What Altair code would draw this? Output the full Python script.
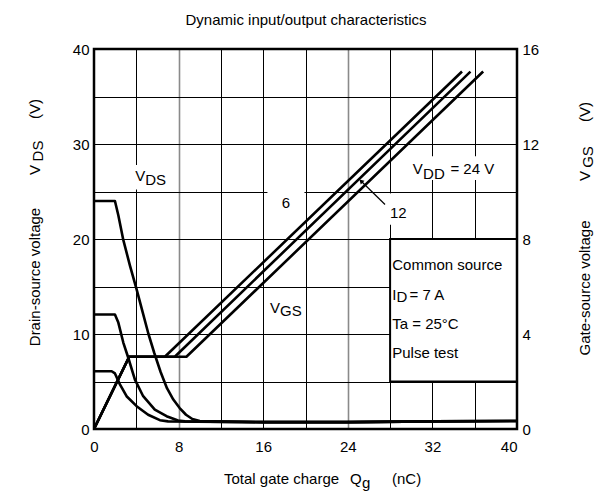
import altair as alt
import pandas as pd

FONT = "Liberation Sans"

# ---------------- data ----------------
# Drain-source voltage VDS (V) vs total gate charge Qg (nC), three supply voltages
q_vds_24 = [0, 1.98, 2.3, 2.77, 3.4, 4.03, 4.6, 5.15, 5.7, 6.3, 6.9, 7.5, 8.1, 8.7, 9.3, 10.0, 16, 24, 32, 40]
v_vds_24 = [24, 24, 22.5, 19.9, 17.2, 14.7, 12.3, 10.0, 8.0, 6.0, 4.3, 3.1, 2.2, 1.5, 1.05, 0.85, 0.72, 0.72, 0.8, 0.85]
q_vds_12 = [0, 1.98, 2.3, 2.77, 3.24, 3.87, 4.65, 5.75, 6.86, 7.95, 8.6, 16, 24, 32, 40]
v_vds_12 = [12.05, 12.05, 11.2, 9.1, 7.5, 5.2, 3.45, 2.05, 1.35, 0.9, 0.8, 0.72, 0.72, 0.8, 0.85]
q_vds_6 = [0, 1.67, 1.98, 2.45, 3.08, 4.03, 5.12, 6.23, 7.0, 16, 24, 32, 40]
v_vds_6 = [6.08, 6.08, 5.85, 4.7, 3.45, 2.4, 1.5, 0.93, 0.8, 0.72, 0.72, 0.8, 0.85]

# Gate-source voltage VGS (V)
q_vgs_6 = [0, 3.33, 6.7, 34.8]
q_vgs_12 = [0, 3.33, 7.64, 35.6]
q_vgs_24 = [0, 3.33, 8.74, 36.8]
v_vgs = [0, 3.04, 3.04, 15.05]

x_ticks = list(range(0, 41, 4))
yl_ticks = list(range(0, 41, 5))
yr_ticks = [0, 4, 8, 12, 16]

# in-plot annotation text (data units of the left axis)
ann_text = ["V", "DS", "V", "DD", "= 24 V", "12", "V", "GS",
            "Common source", "I", "D", "= 7 A", "Ta = 25°C", "Pulse test"]
ann_q = [3.9, 4.85, 30.14, 31.12, 33.7, 27.99, 16.64, 17.6,
         28.2, 28.2, 28.6, 29.84, 28.2, 28.2]
ann_v = [26.1, 25.65, 26.8, 26.34, 26.8, 22.2, 12.16, 11.87,
         16.7, 13.63, 13.35, 13.63, 10.55, 7.5]
six_q, six_v = [18.16], [23.3]

# white patches behind labels (data units)
mask_q = [3.2, 16.4, 29.7, 27.7]
mask_q2 = [7.2, 19.9, 38.4, 29.9]
mask_v = [25.2, 22.5, 26.2, 21.5]
mask_v2 = [27.8, 27.0, 28.7, 24.8]

# conditions box
box_q, box_q2, box_v, box_v2 = [28], [40], [5], [20]

# arrow for "12"
arrow_q = [27.52, 25.25]
arrow_v = [23.63, 26.1]

# ---------------- tables ----------------
def series(qs, vs, name):
    return pd.DataFrame({"q": qs, "v": vs, "s": name, "o": range(len(qs))})

vds = pd.concat([series(q_vds_24, v_vds_24, "24"), series(q_vds_12, v_vds_12, "12"),
                 series(q_vds_6, v_vds_6, "6")])
vgs = pd.concat([series(q_vgs_6, v_vgs, "6"), series(q_vgs_12, v_vgs, "12"),
                 series(q_vgs_24, v_vgs, "24")])
ann = pd.DataFrame({"t": ann_text, "q": ann_q, "v": ann_v})
six = pd.DataFrame({"t": ["6"], "q": six_q, "v": six_v})
masks = pd.DataFrame({"q": mask_q, "q2": mask_q2, "v": mask_v, "v2": mask_v2})
box = pd.DataFrame({"q": box_q, "q2": box_q2, "v": box_v, "v2": box_v2})
arrow = pd.DataFrame({"q": arrow_q, "v": arrow_v, "o": [0, 1]})

xs = alt.Scale(domain=[0, 40], nice=False, zero=False)
yls = alt.Scale(domain=[0, 40], nice=False, zero=False)
yrs = alt.Scale(domain=[0, 16], nice=False, zero=False)

gray_test = "datum.value == 8 || datum.value == 24"
x_axis = alt.Axis(
    values=x_ticks, title=None, grid=True, ticks=False, domain=False,
    gridColor={"condition": {"test": gray_test, "value": "#8a8a8a"}, "value": "#000000"},
    gridWidth={"condition": {"test": gray_test, "value": 1.6}, "value": 1},
    gridOpacity=1,
    labelExpr="datum.value % 8 == 0 ? datum.label : ''",
    labelAlign={"condition": {"test": "datum.value == 40", "value": "right"}, "value": "center"},
    labelFont=FONT, labelFontSize=15, labelColor="black", labelPadding=10,
)
yl_axis = alt.Axis(
    values=yl_ticks, title=None, grid=True, ticks=False, domain=False,
    gridColor="black", gridWidth=1, gridOpacity=1,
    labelExpr="datum.value % 10 == 0 ? datum.label : ''",
    labelFont=FONT, labelFontSize=15, labelColor="black", labelPadding=5,
)
yr_axis = alt.Axis(
    values=yr_ticks, title=None, grid=False, ticks=False, domain=False, orient="right",
    labelFont=FONT, labelFontSize=15, labelColor="black", labelPadding=5,
)

# every layer uses the same x encoding (shared axis); y is independent per layer
X = lambda f="q": alt.X(f"{f}:Q", scale=xs, axis=x_axis)
YL = lambda f="v": alt.Y(f"{f}:Q", scale=yls, axis=None)

mask_layer = alt.Chart(masks).mark_rect(fill="white").encode(
    x=X(), x2="q2:Q", y=YL(), y2="v2:Q")
box_layer = alt.Chart(box).mark_rect(fill="white", stroke="black", strokeWidth=2).encode(
    x=X(), x2="q2:Q", y=YL(), y2="v2:Q")
vds_layer = alt.Chart(vds).mark_line(color="black", strokeWidth=2.6, strokeJoin="round").encode(
    x=X(),
    y=alt.Y("v:Q", scale=yls, axis=yl_axis),
    detail="s:N", order="o:Q")
ann_layer = alt.Chart(ann).mark_text(align="left", baseline="alphabetic", font=FONT,
                                     fontSize=15, color="black").encode(
    x=X(), y=YL(), text="t:N")
six_layer = alt.Chart(six).mark_text(align="center", baseline="alphabetic", font=FONT,
                                     fontSize=15, color="black").encode(
    x=X(), y=YL(), text="t:N")
arrow_line = alt.Chart(arrow).mark_line(color="black", strokeWidth=1.2).encode(
    x=X(), y=YL(), order="o:Q")
arrow_head = alt.Chart(arrow.iloc[[1]]).mark_point(shape="triangle-up", filled=True, color="black",
                                                   size=28, angle=315, opacity=1).encode(
    x=X(), y=YL())

vgs_layer = alt.Chart(vgs).mark_line(color="black", strokeWidth=2.6, strokeJoin="round").encode(
    x=X(),
    y=alt.Y("v:Q", scale=yrs, axis=yr_axis),
    detail="s:N", order="o:Q")

# plot frame (drawn on top, like the datasheet's heavy border)
frame = alt.Chart(alt.Data(values=[{}])).mark_rect(
    fillOpacity=0, stroke="black", strokeWidth=2.5).encode(
    x=alt.value(0), x2=alt.value(423), y=alt.value(0), y2=alt.value(380))


def label(text, px, py, size=15, angle=0, align="center", baseline="alphabetic"):
    # px, py are relative to the plot area's top-left corner
    return alt.Chart(alt.Data(values=[{}])).mark_text(
        text=text, font=FONT, fontSize=size, color="black", angle=angle,
        align=align, baseline=baseline).encode(x=alt.value(px), y=alt.value(py))


OX, OY = 94, 49  # page position of plot area's top-left
titles = [
    label("Dynamic input/output characteristics", 306 - OX, 20 - OY, size=15, baseline="middle"),
    # x title
    label("Total gate charge", 224 - OX, 484 - OY, align="left"),
    label("Q", 350 - OX, 484 - OY, align="left"),
    label("g", 362 - OX, 488 - OY, align="left"),
    label("(nC)", 392 - OX, 484 - OY, align="left"),
    # left title (reads upward)
    label("Drain-source voltage", 35 - OX, 277 - OY, angle=270, baseline="middle"),
    label("V", 35 - OX, 170 - OY, angle=270, baseline="middle"),
    label("DS", 38 - OX, 151 - OY, angle=270, baseline="middle"),
    label("(V)", 35 - OX, 109 - OY, angle=270, baseline="middle"),
    # right title
    label("Gate-source voltage", 585 - OX, 288 - OY, angle=270, baseline="middle"),
    label("V", 585 - OX, 176 - OY, angle=270, baseline="middle"),
    label("GS", 588 - OX, 157 - OY, angle=270, baseline="middle"),
    label("(V)", 585 - OX, 112 - OY, angle=270, baseline="middle"),
]

chart = alt.layer(
    mask_layer, box_layer, vds_layer, ann_layer, six_layer, arrow_line, arrow_head,
    vgs_layer, frame, *titles
).resolve_scale(y="independent").properties(
    width=423, height=380,
    autosize=alt.AutoSizeParams(type="none"),
    padding={"left": OX - 8, "top": OY - 8, "right": 80, "bottom": 63},
).configure_view(stroke=None)

chart.save("out.html", embed_options={"renderer": "svg", "actions": False})
